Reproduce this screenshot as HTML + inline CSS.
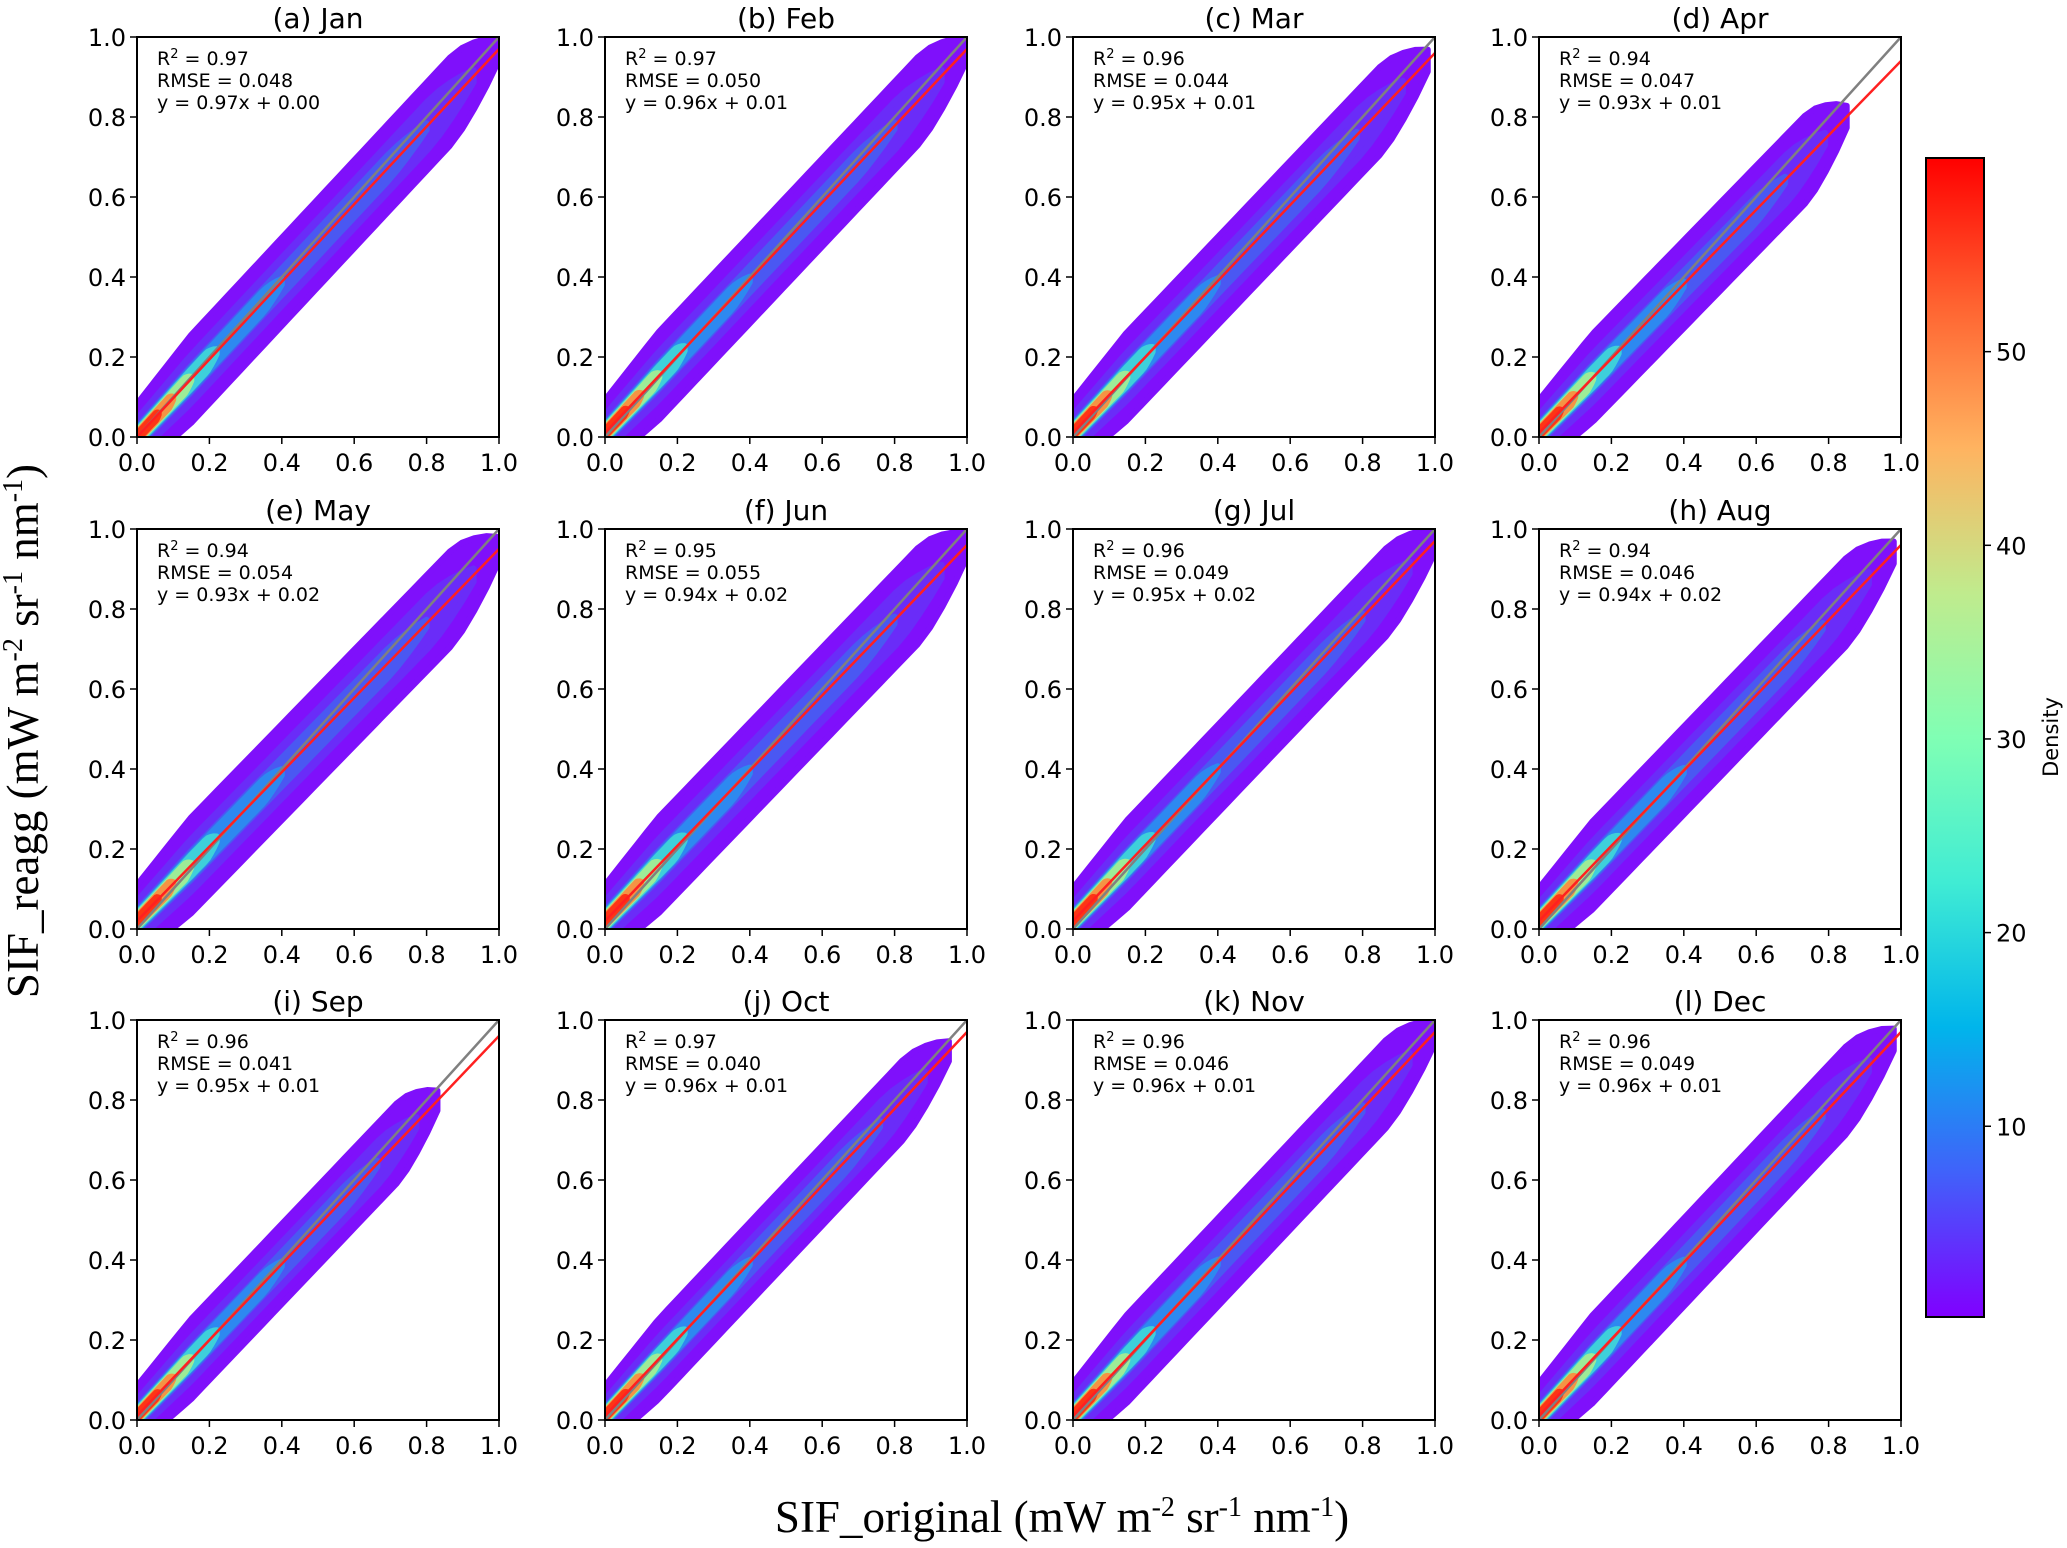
<!DOCTYPE html>
<html><head><meta charset="utf-8"><style>
html,body{margin:0;padding:0;background:#fff;}
svg text{font-family:"DejaVu Sans","Liberation Sans",sans-serif;fill:#000;}
</style></head><body>
<svg id="fig" width="2067" height="1543" viewBox="0 0 2067 1543" xmlns="http://www.w3.org/2000/svg">
<defs>
<linearGradient id="cbg" x1="0" y1="1" x2="0" y2="0">
<stop offset="0" stop-color="#8000ff"/><stop offset="0.125" stop-color="#4062fa"/>
<stop offset="0.25" stop-color="#00b5eb"/><stop offset="0.375" stop-color="#40ecd4"/>
<stop offset="0.5" stop-color="#80ffb4"/><stop offset="0.625" stop-color="#c0eb8d"/>
<stop offset="0.75" stop-color="#ffb360"/><stop offset="0.875" stop-color="#ff6230"/>
<stop offset="1" stop-color="#ff0000"/></linearGradient>
</defs>
<text x="0" y="0" transform="translate(38,731) rotate(-90)" text-anchor="middle" style="font-family:'Liberation Serif',serif;font-size:45px">SIF_reagg (mW m<tspan dy="-16" font-size="28">-2</tspan><tspan dy="16"> sr</tspan><tspan dy="-16" font-size="28">-1</tspan><tspan dy="16"> nm</tspan><tspan dy="-16" font-size="28">-1</tspan><tspan dy="16">)</tspan></text>
<text x="1062" y="1532" text-anchor="middle" style="font-family:'Liberation Serif',serif;font-size:45px">SIF_original (mW m<tspan dy="-16" font-size="28">-2</tspan><tspan dy="16"> sr</tspan><tspan dy="-16" font-size="28">-1</tspan><tspan dy="16"> nm</tspan><tspan dy="-16" font-size="28">-1</tspan><tspan dy="16">)</tspan></text>
</svg>
<script>
const titles=["(a) Jan","(b) Feb","(c) Mar","(d) Apr","(e) May","(f) Jun","(g) Jul","(h) Aug","(i) Sep","(j) Oct","(k) Nov","(l) Dec"];
const r2=["0.97","0.97","0.96","0.94","0.94","0.95","0.96","0.94","0.96","0.97","0.96","0.96"];
const rmse=["0.048","0.050","0.044","0.047","0.054","0.055","0.049","0.046","0.041","0.040","0.046","0.049"];
const slopes=[0.97,0.96,0.95,0.93,0.93,0.94,0.95,0.94,0.95,0.96,0.96,0.96];
const intercepts=[0.00,0.01,0.01,0.01,0.02,0.02,0.02,0.02,0.01,0.01,0.01,0.01];
const cloudMax=[1.0,1.0,0.98,0.85,1.0,1.0,1.0,0.98,0.83,0.95,1.0,0.98];
const spread=[0.11,0.11,0.11,0.11,0.12,0.12,0.11,0.11,0.1,0.1,0.11,0.11];
const ticks=[0,0.2,0.4,0.6,0.8,1.0];
const cbTicks=[10,20,30,40,50];
const cbMin=0.15, cbMax=60;

const NS="http://www.w3.org/2000/svg";
const svg=document.getElementById('fig');
const lefts=[137,605,1073,1539], tops=[37,529,1020], W=362, H=400;
function mk(tag,attrs,parent){const e=document.createElementNS(NS,tag);for(const k in attrs)e.setAttribute(k,attrs[k]);(parent||svg).appendChild(e);return e;}

for(let i=0;i<12;i++){
  const L=lefts[i%4], T=tops[Math.floor(i/4)];
  const sx=v=>L+v*W, sy=v=>T+H-v*H;
  const g=mk('g',{});
  
  
  const clipId='c'+i;
  const cp=mk('clipPath',{id:clipId},g);mk('rect',{x:L,y:T,width:W,height:H},cp);
  const cg=mk('g',{'clip-path':'url(#'+clipId+')'},g);
  const a=slopes[i], b=intercepts[i], xm=cloudMax[i], s=spread[i];
  function band(x0,x1,w,color,op){
    const wf=x=>{let f=x<0.15?0.75+1.7*x:1;const e=(x1-x)/(0.12*x1);if(e<1)f*=Math.max(0.25,Math.sqrt(Math.max(e,0)));return w*f;};
    const pts=[];
    for(let k=0;k<=30;k++){const x=x0+(x1-x0)*k/30;pts.push(sx(x)+','+sy(a*x+b+wf(x)));}
    for(let k=30;k>=0;k--){const x=x0+(x1-x0)*k/30;pts.push(sx(x)+','+sy(a*x+b-wf(x)));}
    const p=mk('polygon',{points:pts.join(' '),fill:color,opacity:op,stroke:color,'stroke-width':6,'stroke-linejoin':'round'},cg);
    
    
  }
  band(-0.02,xm,s,'#7f10fb',1);
  band(-0.02,xm*0.93,s*0.55,'#6a2cf8',1);
  band(-0.02,xm*0.8,s*0.3,'#4a58f2',1);
  band(-0.02,0.4,s*0.25,'#2a8ff0',0.9);
  band(-0.02,0.22,s*0.22,'#40d8d8',0.9);
  band(-0.02,0.15,s*0.18,'#a8f090',0.9);
  band(-0.02,0.1,s*0.14,'#ff8a3c',0.9);
  band(-0.02,0.06,s*0.1,'#ff2a10',0.9);
  const one=mk('line',{x1:sx(0),y1:sy(0),x2:sx(1),y2:sy(1),stroke:'#808080','stroke-width':2.5},cg);
  
  
  const fit=mk('line',{x1:sx(0),y1:sy(b),x2:sx(1),y2:sy(a+b),stroke:'#ff2020','stroke-width':2.5},cg);
  
  
  const fr=mk('rect',{x:L,y:T,width:W,height:H,fill:'none',stroke:'#000','stroke-width':2},g);
  
  
  ticks.forEach(t=>{
    mk('line',{x1:sx(t),y1:T+H,x2:sx(t),y2:T+H+7,stroke:'#000','stroke-width':1.5},g);
    const xl=mk('text',{x:sx(t),y:T+H+34,'text-anchor':'middle','font-size':24},g);xl.textContent=t.toFixed(1);
    
    
    mk('line',{x1:L-7,y1:sy(t),x2:L,y2:sy(t),stroke:'#000','stroke-width':1.5},g);
    const yl=mk('text',{x:L-11,y:sy(t)+9,'text-anchor':'end','font-size':24},g);yl.textContent=t.toFixed(1);
    
    
  });
  const tt=mk('text',{x:L+W/2,y:T-9,'text-anchor':'middle','font-size':28},g);tt.textContent=titles[i];
  
  
  const an=mk('text',{x:L+20,y:T+28,'font-size':19},g);
  
  
  an.innerHTML='R<tspan dy="-7" font-size="13">2</tspan><tspan dy="7"> = '+r2[i]+'</tspan>';
  const an2=mk('text',{x:L+20,y:T+50,'font-size':19},g);an2.textContent='RMSE = '+rmse[i];
  
  
  const an3=mk('text',{x:L+20,y:T+72,'font-size':19},g);an3.textContent='y = '+a.toFixed(2)+'x + '+b.toFixed(2);
  
  
}
const CBX=1926, CBW=58, CBT=158, CBB=1317;
const cy=v=>CBB-(v-cbMin)/(cbMax-cbMin)*(CBB-CBT);
const cb=mk('rect',{x:CBX,y:CBT,width:CBW,height:CBB-CBT,fill:'url(#cbg)',stroke:'#000','stroke-width':2});


cbTicks.forEach(t=>{
  mk('line',{x1:CBX+CBW,y1:cy(t),x2:CBX+CBW+7,y2:cy(t),stroke:'#000','stroke-width':1.5});
  const l=mk('text',{x:CBX+CBW+12,y:cy(t)+9,'font-size':24});l.textContent=t;
  
  
});
const cbl=mk('text',{x:0,y:0,transform:'translate(2058,737) rotate(-90)','text-anchor':'middle','font-size':21});
cbl.textContent='Density';


</script>
</body></html>
